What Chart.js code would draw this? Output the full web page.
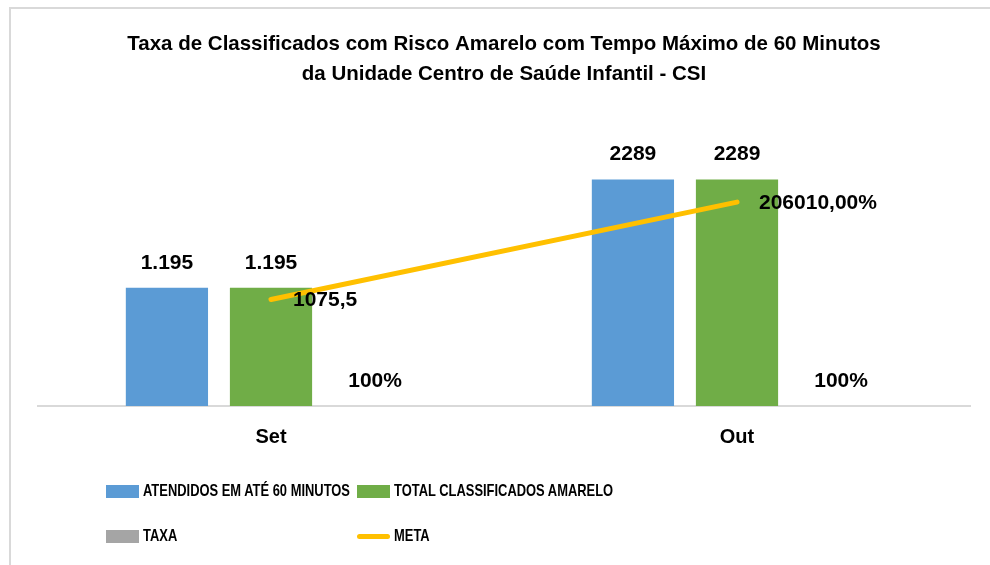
<!DOCTYPE html>
<html lang="pt-BR">
<head>
<meta charset="utf-8">
<title>Taxa de Classificados com Risco Amarelo</title>
<script src="https://cdn.jsdelivr.net/npm/chart.js@4"></script>
<style>
    html, body { margin: 0; padding: 0; background: #fff; }
    #quadro {
        position: absolute; left: 0; top: 0; width: 990px; height: 565px; overflow: hidden;
    }
    #moldura {
        position: absolute; left: 9px; top: 7px; width: 1000px; height: 600px;
        border-left: 2px solid #d9d9d9; border-top: 2px solid #d9d9d9;
    }
    #grafico { position: absolute; left: 0; top: 0; }
    .item-legenda {
        position: absolute; display: flex; align-items: center;
        transform: translateY(-50%);
        font-family: "Liberation Sans", Arial, sans-serif;
        font-weight: bold; font-size: 17px; color: #000; white-space: nowrap;
    }
    .item-legenda .texto { display: inline-block; transform: scaleX(0.76); transform-origin: left center; }
    .caixa { width: 33px; height: 13px; margin-right: 4px; }
    .traco { width: 33px; height: 5px; border-radius: 3px; margin-right: 4px; }
</style>
</head>
<body>
<div id="quadro">
    <div id="moldura"></div>
    <canvas id="grafico" width="990" height="565"></canvas>
    <div id="legenda"></div>
</div>
<script>
// Dados do gráfico
const categorias = ['Set', 'Out'];
const atendidos = [1195, 2289];
const totalAmarelo = [1195, 2289];
const taxa = [1, 1];
const meta = [1075.5, 2060.1];

// Rótulos exibidos sobre as barras e a linha
const rotulosAtendidos = ['1.195', '2289'];
const rotulosTotal = ['1.195', '2289'];
const rotulosTaxa = ['100%', '100%'];
const rotulosMeta = ['1075,5', '206010,00%'];

const tituloLinhas = [
    'Taxa de Classificados com Risco Amarelo com Tempo Máximo de 60 Minutos',
    'da Unidade Centro de Saúde Infantil - CSI'
];

const fonteBase = '"Liberation Sans", Arial, sans-serif';

// Plugin simples para escrever os valores
const rotulosPlugin = {
    id: 'rotulos',
    afterDatasetsDraw(chart) {
        const ctx = chart.ctx;
        ctx.save();
        ctx.fillStyle = '#000';
        ctx.font = 'bold 21px ' + fonteBase;
        ctx.textBaseline = 'middle';
        chart.data.datasets.forEach((ds, i) => {
            const info = chart.getDatasetMeta(i);
            info.data.forEach((el, j) => {
                const texto = ds.rotulos[j];
                if (ds.type === 'line') {
                    ctx.textAlign = 'left';
                    ctx.fillText(texto, el.x + 22, el.y + 1);
                } else {
                    ctx.textAlign = 'center';
                    ctx.fillText(texto, el.x, el.y - 25);
                }
            });
        });
        ctx.restore();
    }
};

const canvas = document.getElementById('grafico');
const grafico = new Chart(canvas.getContext('2d'), {
    type: 'bar',
    data: {
        labels: categorias,
        datasets: [
            {
                label: 'ATENDIDOS EM ATÉ 60 MINUTOS',
                data: atendidos,
                rotulos: rotulosAtendidos,
                backgroundColor: '#5b9bd5',
                order: 1
            },
            {
                label: 'TOTAL CLASSIFICADOS AMARELO',
                data: totalAmarelo,
                rotulos: rotulosTotal,
                backgroundColor: '#70ad47',
                order: 1
            },
            {
                label: 'TAXA',
                data: taxa,
                rotulos: rotulosTaxa,
                backgroundColor: '#a5a5a5',
                order: 1
            },
            {
                type: 'line',
                label: 'META',
                data: meta,
                rotulos: rotulosMeta,
                borderColor: '#ffc000',
                backgroundColor: '#ffc000',
                borderWidth: 5,
                borderCapStyle: 'round',
                pointRadius: 0,
                pointHoverRadius: 0,
                tension: 0,
                order: 0
            }
        ]
    },
    options: {
        responsive: false,
        animation: false,
        events: [],
        categoryPercentage: 0.67,
        barPercentage: 0.79,
        layout: { padding: { left: 38, right: 20, top: 29, bottom: 109 } },
        scales: {
            x: {
                grid: { display: false, drawTicks: false },
                border: { display: true, color: '#d9d9d9', width: 2 },
                ticks: {
                    color: '#000',
                    padding: 19,
                    font: { family: fonteBase, size: 20, weight: 'bold' }
                },
                afterFit: (s) => { s.height = 50; }
            },
            y: { display: false, min: 0, max: 3000 }
        },
        plugins: {
            legend: { display: false },
            tooltip: { enabled: false },
            title: {
                display: true,
                text: tituloLinhas,
                color: '#000',
                padding: { top: 0, bottom: 20 },
                font: { family: fonteBase, size: 20.5, weight: 'bold', lineHeight: 1.465 }
            }
        }
    },
    plugins: [rotulosPlugin]
});

// Legenda em duas colunas, montada a partir dos datasets
const legenda = document.getElementById('legenda');
const posicoes = [[106, 491], [357, 491], [106, 536], [357, 536]];
grafico.data.datasets.forEach((ds, i) => {
    const item = document.createElement('div');
    item.className = 'item-legenda';
    item.style.left = posicoes[i][0] + 'px';
    item.style.top = posicoes[i][1] + 'px';
    const marca = document.createElement('span');
    marca.className = ds.type === 'line' ? 'traco' : 'caixa';
    marca.style.background = ds.type === 'line' ? ds.borderColor : ds.backgroundColor;
    const texto = document.createElement('span');
    texto.className = 'texto';
    texto.textContent = ds.label;
    item.appendChild(marca);
    item.appendChild(texto);
    legenda.appendChild(item);
});
</script>
</body>
</html>
